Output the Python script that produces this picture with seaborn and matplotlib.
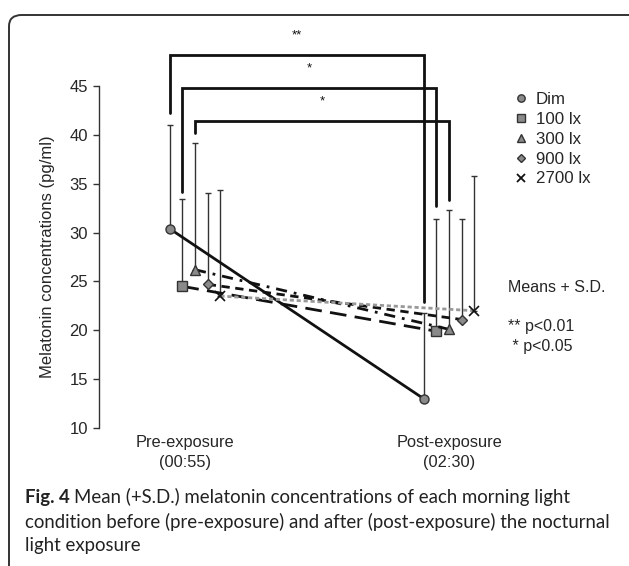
import numpy as np
import pandas as pd
import matplotlib
matplotlib.use("Agg")
import matplotlib.pyplot as plt
from matplotlib.lines import Line2D
from matplotlib.patches import FancyBboxPatch
from matplotlib.transforms import ScaledTranslation
import seaborn as sns

# ---------------- data ----------------
conditions = ["Dim", "100 lx", "300 lx", "900 lx", "2700 lx"]
timepoints = ["Pre-exposure\n(00:55)", "Post-exposure\n(02:30)"]
pre_mean = [30.4, 24.5, 26.2, 24.7, 23.5]
post_mean = [13.0, 19.9, 20.1, 21.1, 22.0]
pre_sd = [10.6, 8.9, 13.0, 9.4, 10.9]
post_sd = [8.8, 11.5, 12.2, 10.3, 13.8]
yticks = [10, 15, 20, 25, 30, 35, 40, 45]
# significance brackets: (condition, top, left-leg bottom, right-leg bottom, label)
brackets = [("Dim", 48.2, 42.2, 22.9, "**"),
            ("100 lx", 44.8, 34.2, 32.7, "*"),
            ("300 lx", 41.45, 40.2, 33.3, "*")]
notes = ["Means + S.D.", "** p<0.01", " * p<0.05"]
caption = ["Mean (+S.D.) melatonin concentrations of each morning light",
           "condition before (pre-exposure) and after (post-exposure) the nocturnal",
           "light exposure"]

# ---------------- style ----------------
W, H = 629, 566
sns.set_theme(style="white")
plt.rcParams["font.family"] = ["Liberation Sans", "DejaVu Sans"]

markers = {"Dim": "o", "100 lx": "s", "300 lx": "^", "900 lx": "D", "2700 lx": "x"}
msize = {"Dim": 6.5, "100 lx": 6.5, "300 lx": 6.5, "900 lx": 5.0, "2700 lx": 6.5}
dashes = {"Dim": None, "100 lx": (6, 3), "300 lx": (4, 2.5, 1, 2.5),
          "900 lx": (3, 2), "2700 lx": (1.5, 1)}
colors = {"Dim": "#111111", "100 lx": "#111111", "300 lx": "#111111",
          "900 lx": "#111111", "2700 lx": "#999999"}
offsets = {c: (i - 2) * 0.05 for i, c in enumerate(conditions)}

rows = []
for i, c in enumerate(conditions):
    rows.append(dict(cond=c, t=0, mean=pre_mean[i], sd=pre_sd[i]))
    rows.append(dict(cond=c, t=1, mean=post_mean[i], sd=post_sd[i]))
df = pd.DataFrame(rows)
df["x"] = df["t"] + df["cond"].map(offsets)

fig = plt.figure(figsize=(W / 100, H / 100), dpi=100)
fig.patch.set_facecolor("white")

# rounded frame
frame = FancyBboxPatch((9 / W, -30 / H), 650 / W, (H - 15 + 30) / H,
                       boxstyle="round,pad=0,rounding_size=0.02",
                       transform=fig.transFigure, fill=False,
                       edgecolor="#333333", linewidth=1.4, zorder=0)
fig.patches.append(frame)

ax_left, ax_right, ax_top, ax_bot = 99, 500, 86, 428
ax = fig.add_axes([ax_left / W, 1 - ax_bot / H, (ax_right - ax_left) / W,
                   (ax_bot - ax_top) / H])
x_left = (ax_left - 195) / 254
x_right = (ax_right - 195) / 254

# error bars (upper only)
for _, r in df.iterrows():
    ax.errorbar(r["x"], r["mean"], yerr=[[0], [r["sd"]]], fmt="none",
                ecolor="#333333", elinewidth=1.0, capsize=2.5, capthick=1.0,
                zorder=2, clip_on=False)

for c in conditions:
    sub = df[df["cond"] == c]
    n_before = len(ax.get_lines())
    filled = c != "2700 lx"
    sns.lineplot(data=sub, x="x", y="mean", color=colors[c],
                 marker=markers[c], markersize=msize[c], linewidth=2.0,
                 markerfacecolor="#8a8a8a" if filled else "#111111",
                 markeredgecolor="#333333" if filled else "#111111",
                 markeredgewidth=1.0 if filled else 1.2,
                 ax=ax, legend=False, zorder=3, clip_on=False)
    line = ax.get_lines()[n_before]
    if dashes[c] is not None:
        line.set_dashes(dashes[c])

# brackets
for c, top, lb, rb, lab in brackets:
    xl = 0 + offsets[c]
    xr = 1 + offsets[c]
    ax.plot([xl, xl, xr, xr], [lb, top, top, rb], color="#111111", lw=2.0,
            clip_on=False, zorder=4, solid_joinstyle="miter")
    ax.text((xl + xr) / 2, top + 2.0, lab, ha="center", va="center",
            fontsize=9.5, color="#111111")

ax.set_xlim(x_left, x_right)
ax.set_ylim(10, 45)
ax.set_yticks(yticks)
ax.set_xticks([0, 1])
ax.set_xticklabels(timepoints, fontsize=11.8, linespacing=1.4)
ax.tick_params(axis="y", labelsize=12, length=4, width=1, left=True,
               color="#333333", pad=4)
ax.tick_params(axis="x", length=0, pad=5)
lab0 = ax.get_xticklabels()[0]
lab0.set_transform(lab0.get_transform() + ScaledTranslation(-10 / 100, 0, fig.dpi_scale_trans))
ax.set_xlabel("")
ax.set_ylabel("Melatonin concentrations (pg/ml)", fontsize=12, labelpad=10)
for s in ["top", "right", "bottom"]:
    ax.spines[s].set_visible(False)
ax.spines["left"].set_color("#333333")
ax.spines["left"].set_linewidth(1.0)
ax.patch.set_alpha(0)

# legend
handles = [Line2D([], [], linestyle="none", marker=markers[c],
                  markersize=msize[c] - 1.2,
                  markerfacecolor="#8a8a8a" if c != "2700 lx" else "#111111",
                  markeredgecolor="#333333" if c != "2700 lx" else "#111111",
                  markeredgewidth=1.0 if c != "2700 lx" else 1.3)
           for c in conditions]
fig.legend(handles, conditions, loc="upper left",
           bbox_to_anchor=(507 / W, 1 - 85 / H), frameon=False,
           fontsize=12.2, handlelength=0.8, handletextpad=0.5,
           labelspacing=0.29, borderaxespad=0)

# notes
fig.text(508 / W, 1 - 287 / H, notes[0], fontsize=11.5, va="center", ha="left")
fig.text(508 / W, 1 - 327 / H, notes[1], fontsize=11.5, va="center", ha="left")
fig.text(508 / W, 1 - 347 / H, notes[2], fontsize=11.5, va="center", ha="left")

# caption
cap_font = ["Lato", "DejaVu Sans"]
fig.canvas.draw()
rend = fig.canvas.get_renderer()
probe = fig.text(0, 0, caption[1], fontsize=13, family=cap_font)
wprobe = probe.get_window_extent(renderer=rend).width
probe.remove()
cfs = 13 * 583 / wprobe
ys = [497, 522, 546]
t1 = fig.text(25 / W, 1 - ys[0] / H, "Fig. 4", fontsize=cfs, fontweight="bold",
              family=cap_font, va="center", ha="left", color="#222222")
bb = t1.get_window_extent(renderer=rend)
fig.text((bb.x1 + 4) / W, 1 - ys[0] / H, caption[0],
         fontsize=cfs, family=cap_font, va="center", ha="left", color="#222222")
fig.text(25 / W, 1 - ys[1] / H, caption[1],
         fontsize=cfs, family=cap_font, va="center", ha="left", color="#222222")
fig.text(25 / W, 1 - ys[2] / H, caption[2],
         fontsize=cfs, family=cap_font, va="center", ha="left", color="#222222")

fig.savefig("out.png", dpi=100)
